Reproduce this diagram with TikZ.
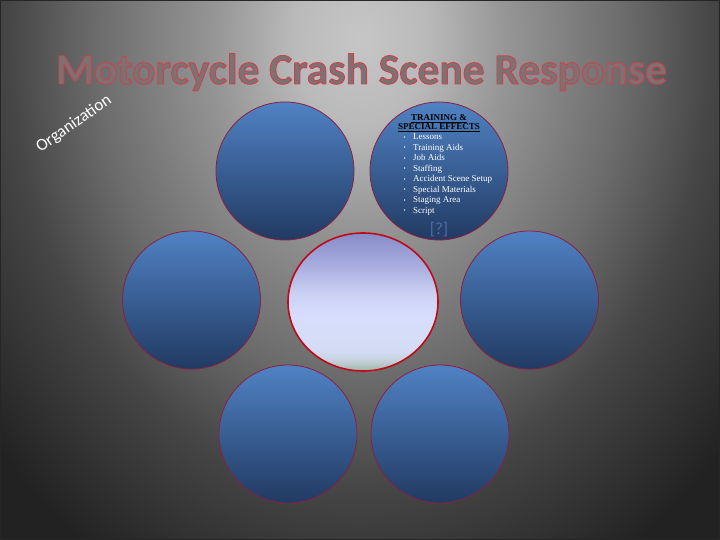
\documentclass[tikz,border=0pt]{standalone}
\usepackage{fontspec}
\setmainfont{Liberation Serif}
\newfontfamily\carlito{Carlito}
\usetikzlibrary{shapes.geometric}
\definecolor{bgA}{RGB}{198,198,198}
\definecolor{bgB}{RGB}{186,186,186}
\definecolor{bgC}{RGB}{150,150,150}
\definecolor{bgD}{RGB}{108,108,108}
\definecolor{bgE}{RGB}{70,70,70}
\definecolor{bgF}{RGB}{52,52,52}
\definecolor{bgG}{RGB}{34,34,34}
\definecolor{bluetop}{RGB}{80,130,196}
\definecolor{bluebot}{RGB}{33,58,98}
\definecolor{circedge}{RGB}{140,30,65}
\definecolor{ctredge}{RGB}{190,10,25}
\definecolor{cc1}{RGB}{160,180,165}
\definecolor{cc2}{RGB}{195,208,218}
\definecolor{cc3}{RGB}{212,220,245}
\definecolor{cc4}{RGB}{215,222,252}
\definecolor{cc5}{RGB}{205,210,245}
\definecolor{cc6}{RGB}{170,175,225}
\definecolor{cc7}{RGB}{135,140,200}
\definecolor{titlefill}{RGB}{124,114,116}
\definecolor{qblue}{RGB}{78,108,168}
\pgfdeclareradialshading{bgshade}{\pgfpoint{0bp}{0bp}}{color(0bp)=(bgA); color(1.875bp)=(bgB); color(4.125bp)=(bgC); color(7.5bp)=(bgD); color(10bp)=(bgE); color(11.875bp)=(bgF); color(13.75bp)=(bgG); color(50bp)=(bgG)}
\pgfdeclareverticalshading{ctrshade}{100bp}{color(0bp)=(cc1); color(25bp)=(cc1); color(28.5bp)=(cc2); color(32.5bp)=(cc3); color(45bp)=(cc4); color(52.5bp)=(cc5); color(62.5bp)=(cc6); color(75bp)=(cc7); color(100bp)=(cc7)}
\newcommand\outlinedtext[1]{\special{pdf:literal 0.9 w 0.80 0.26 0.30 RG 1 j 2 Tr}#1\special{pdf:literal 0 Tr}}
\begin{document}
\begin{tikzpicture}[x=1pt,y=1pt,
  bluecirc/.style={circle, inner sep=0pt, minimum size=138pt, draw=circedge, line width=0.8pt, top color=bluetop, bottom color=bluebot},
  centerell/.style={ellipse, inner sep=0pt, minimum width=150pt, minimum height=138pt, draw=ctredge, line width=1.6pt, shade, shading=ctrshade},
  titlefont/.style={font=\carlito\bfseries\fontsize{43.5}{48}\selectfont, inner sep=0pt, anchor=base},
  itemtext/.style={text=white, font=\fontsize{9}{10}\selectfont, inner sep=0pt, anchor=base west},
  headtext/.style={text=black, font=\bfseries\fontsize{9}{10}\selectfont, inner sep=0pt, anchor=base}]
\useasboundingbox (0,0) rectangle (720,540);
\begin{scope}
  \clip (0,0) rectangle (720,540);
  \shade[shading=bgshade] (360,500) ellipse [x radius=880, y radius=1120];
\end{scope}
\draw[black!85, line width=1.2pt] (0.6,0.6) rectangle (719.4,539.4);
% title with outline
\node[titlefont, text=titlefill] (title) at (361.5,456) {\outlinedtext{Motorcycle Crash Scene Response}};
% Organization
\node[rotate=35, text=white, inner sep=0pt, font=\carlito\fontsize{17}{20}\selectfont] (org) at (74,416) {Organization};
% circles
\node[bluecirc] (tl) at (285,369) {};
\node[bluecirc] (tr) at (439,369) {};
\node[bluecirc] (ml) at (191.5,240) {};
\node[bluecirc] (mr) at (529.5,240) {};
\node[bluecirc] (bl) at (288,106) {};
\node[bluecirc] (br) at (440,106) {};
\node[centerell] (ctr) at (363,238) {};
% text in top-right circle
\node[headtext] (h1) at (439,419.5) {\underline{TRAINING \&}};
\node[headtext] (h2) at (439,410) {\underline{SPECIAL EFFECTS}};
\foreach \t [count=\i] in {Lessons, Training Aids, Job Aids, Staffing, Accident Scene Setup, Special Materials, Staging Area, Script}
  \node[itemtext] (it\i) at (403.5,{400-(\i-1)*10.5}) {\makebox[9.5pt][l]{\fontsize{6}{6}\selectfont\raisebox{0.6pt}{•}}\t};
\node[text=qblue, inner sep=0pt, font=\carlito\fontsize{17}{18}\selectfont] (q) at (439,310) {[?]};
\end{tikzpicture}
\end{document}
